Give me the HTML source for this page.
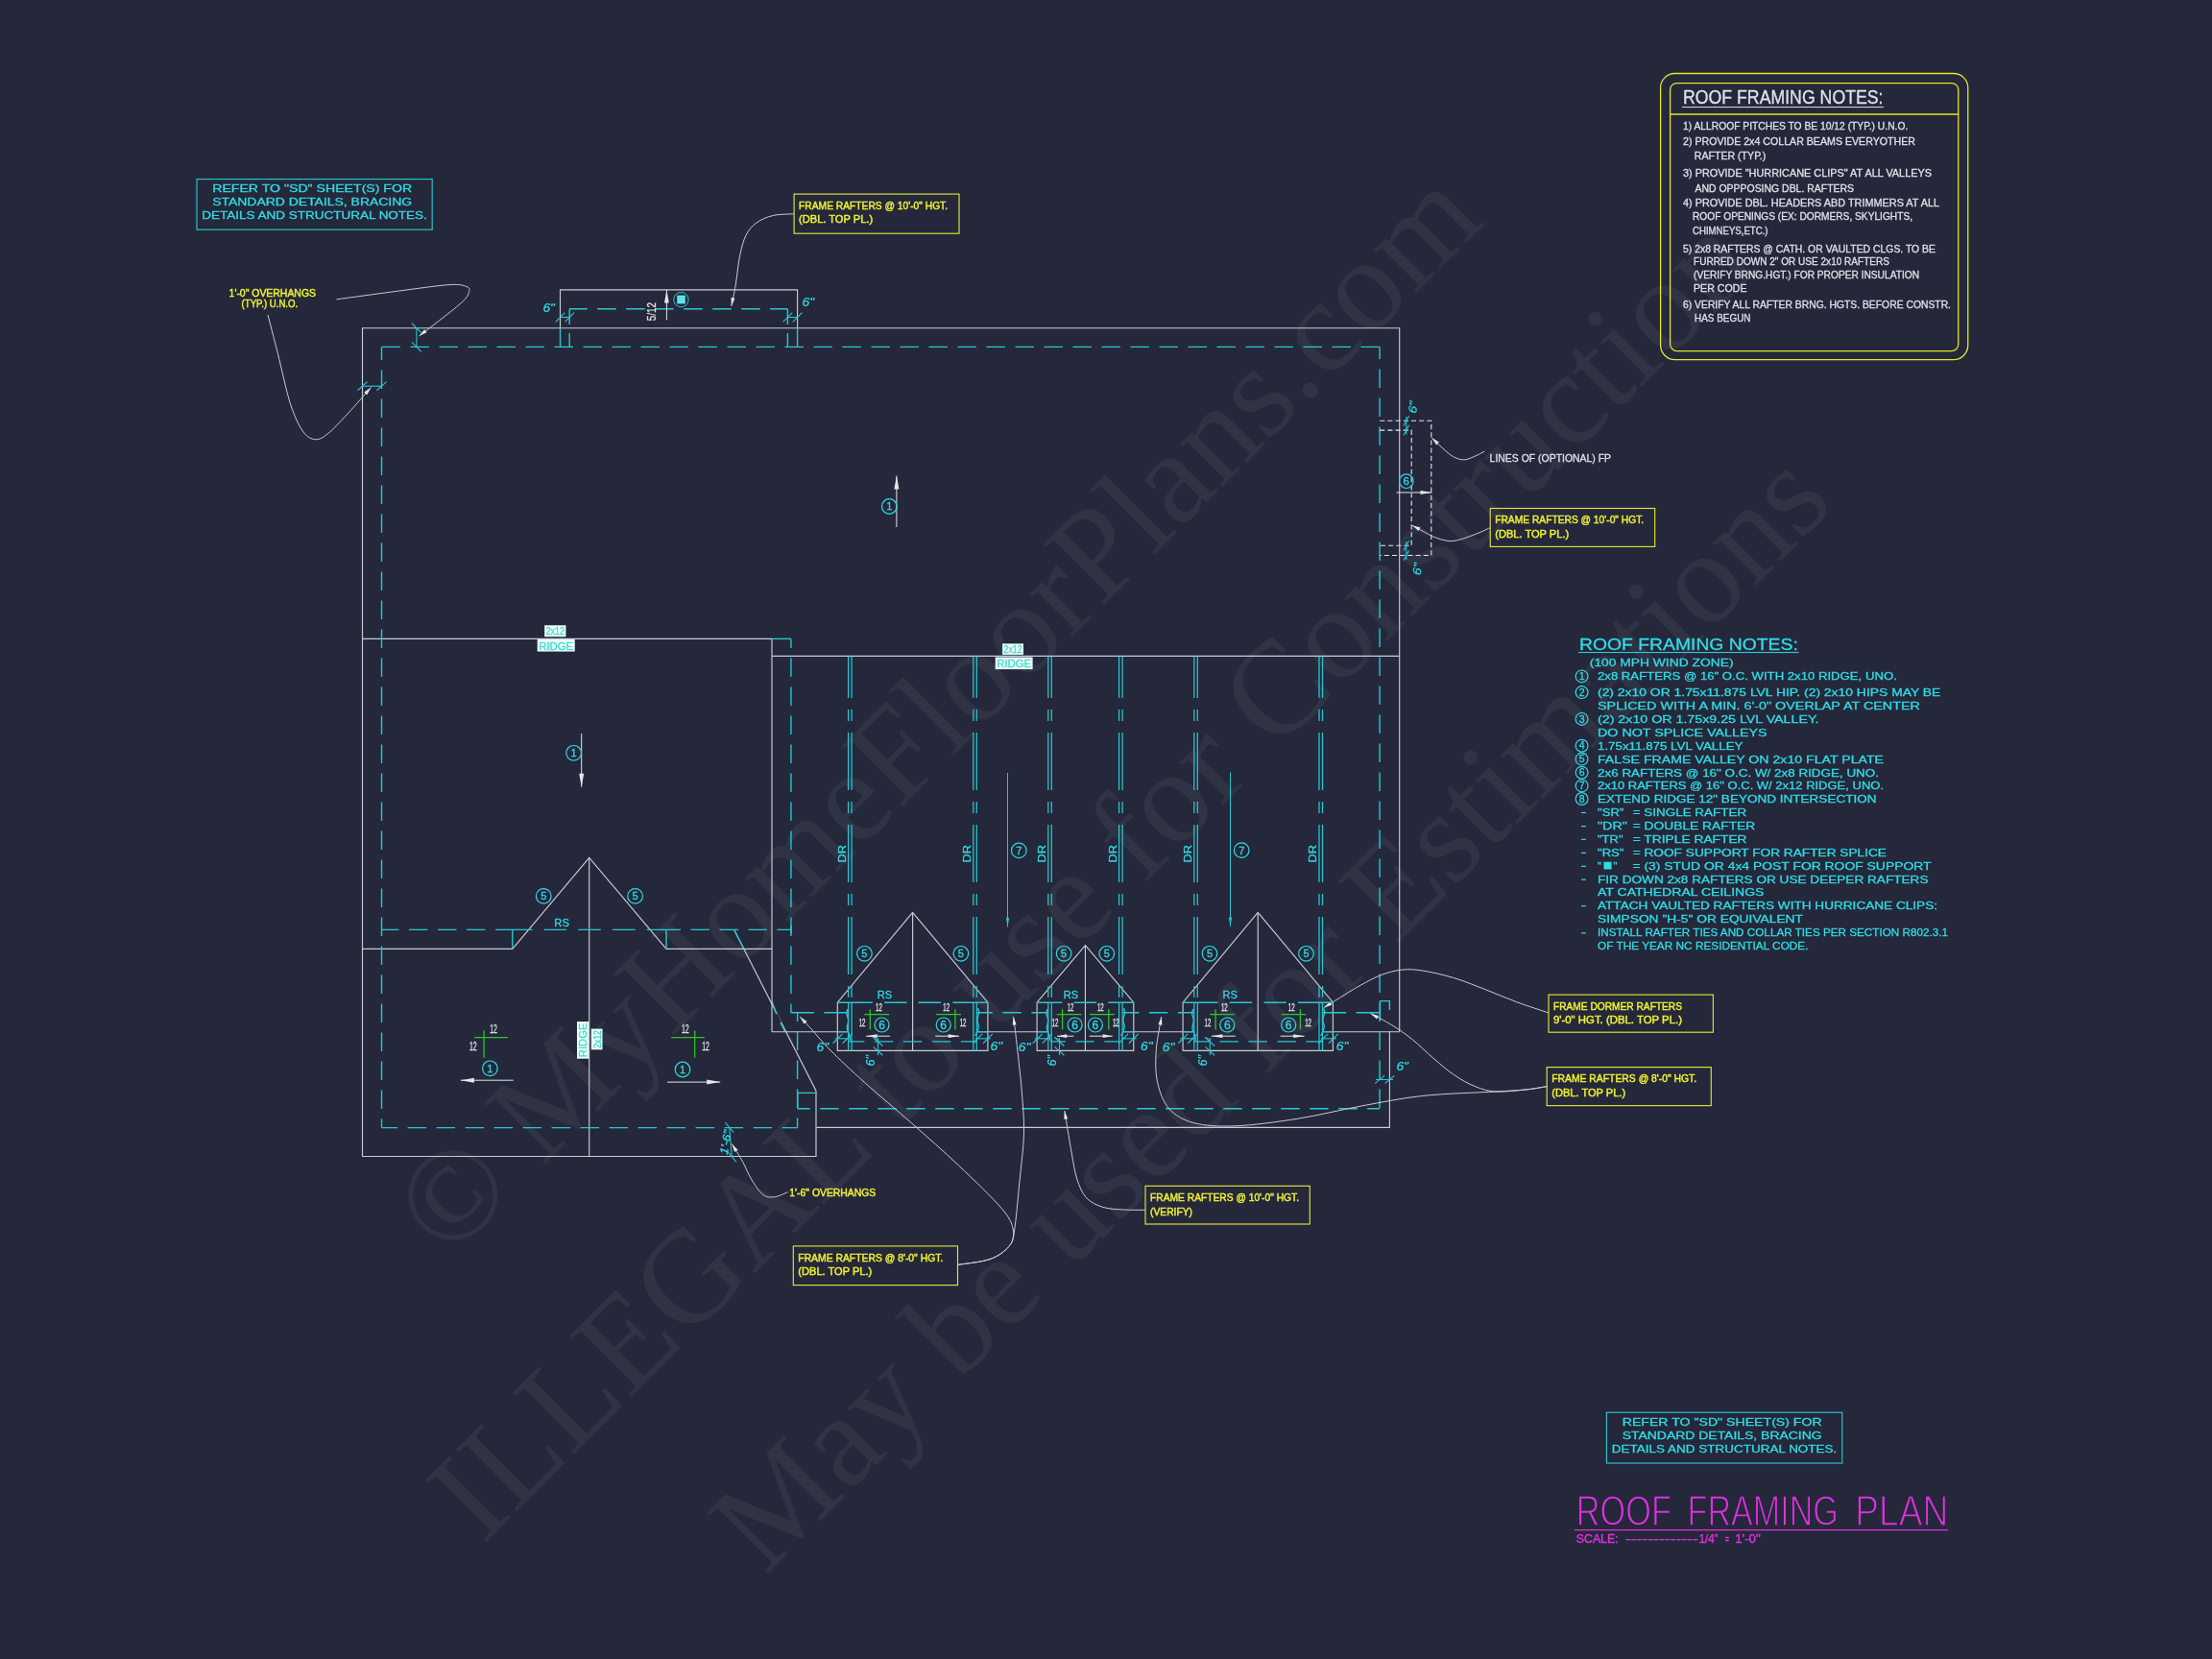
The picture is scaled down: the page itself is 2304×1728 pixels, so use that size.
<!DOCTYPE html>
<html lang="en"><head><meta charset="utf-8"><title>Roof Framing Plan</title>
<style>
html,body{margin:0;padding:0;background:#24283a;}
body{width:2304px;height:1728px;overflow:hidden;}
svg{display:block;font-family:"Liberation Sans",sans-serif;will-change:transform;}
.wm{font-family:"Liberation Serif",serif;fill:#ffffff;fill-opacity:0.055;}
</style></head><body>
<svg width="2304" height="1728" viewBox="0 0 2304 1728">
<!--#24283a-->
<g id="watermark">
<text class="wm" x="466.7" y="1313.5" font-size="137.2" transform="rotate(-45 466.7 1313.5)">© MyHomeFloorPlans.com</text>
<text class="wm" x="502.9" y="1609.6" font-size="138" transform="rotate(-45 502.9 1609.6)">ILLEGAL to use for Construction</text>
<text class="wm" x="796.8" y="1641.9" font-size="137.2" transform="rotate(-45 796.8 1641.9)">May be used for Estimations</text>
</g>
<g id="outline">
<path d="M377.5 1204.7 L377.5 341.7 L1457.7 341.7 L1457.7 1074.7" fill="none" stroke="#c9ccd6" stroke-width="1.15"/>
<path d="M377.5 1204.5 L850 1204.5 L850 1136.2 L764.7 968.5" fill="none" stroke="#c9ccd6" stroke-width="1.15"/>
<line x1="764.7" y1="968.5" x2="774.7" y2="988.3" stroke="#29c6d2" stroke-width="1.4"/>
<line x1="803.9" y1="1043" x2="808.8" y2="1056.2" stroke="#29c6d2" stroke-width="1.4"/>
<line x1="808.9" y1="1056.4" x2="812.9" y2="1065" stroke="#24283a" stroke-width="2.2"/>
<line x1="813" y1="1065.2" x2="817.8" y2="1074.7" stroke="#29c6d2" stroke-width="1.4"/>
<path d="M583.5 341.7 L583.5 301.9 L830.6 301.9 L830.6 341.7" fill="none" stroke="#c9ccd6" stroke-width="1.15"/>
<line x1="377.5" y1="665.4" x2="804" y2="665.4" stroke="#c9ccd6" stroke-width="1.15"/>
<line x1="804" y1="665.4" x2="804" y2="1074.7" stroke="#c9ccd6" stroke-width="1.15"/>
<line x1="804" y1="683.4" x2="1457.7" y2="683.4" stroke="#c9ccd6" stroke-width="1.15"/>
<path d="M377.5 988.3 L533.8 988.3 L613.7 893.3 L694 988.3 L804 988.3" fill="none" stroke="#c9ccd6" stroke-width="1.15"/>
<line x1="613.7" y1="893.3" x2="613.7" y2="1204.7" stroke="#c9ccd6" stroke-width="1.15"/>
<path d="M850.5 1174.3 L1447.4 1174.3 L1447.4 1074.7" fill="none" stroke="#c9ccd6" stroke-width="1.15"/>
<line x1="804" y1="1074.7" x2="883.5" y2="1074.7" stroke="#c9ccd6" stroke-width="1.15"/>
<line x1="1017.3" y1="1074.7" x2="1091.5" y2="1074.7" stroke="#c9ccd6" stroke-width="1.15"/>
<line x1="1169.3" y1="1074.7" x2="1243.5" y2="1074.7" stroke="#c9ccd6" stroke-width="1.15"/>
<line x1="1377.3" y1="1074.7" x2="1457.7" y2="1074.7" stroke="#c9ccd6" stroke-width="1.15"/>
<path d="M950.6 950.4 L872.3 1044.1 L872.3 1094.4 L1028.9 1094.4 L1028.9 1044.1 L950.6 950.4" fill="none" stroke="#c9ccd6" stroke-width="1.15"/>
<line x1="950.6" y1="950.4" x2="950.6" y2="1094.4" stroke="#c9ccd6" stroke-width="1.15"/>
<path d="M1130.45 984.6 L1080.1 1044.1 L1080.1 1094.4 L1180.8 1094.4 L1180.8 1044.1 L1130.45 984.6" fill="none" stroke="#c9ccd6" stroke-width="1.15"/>
<line x1="1130.45" y1="984.6" x2="1130.45" y2="1094.4" stroke="#c9ccd6" stroke-width="1.15"/>
<path d="M1310.25 950.4 L1232.1 1044.1 L1232.1 1094.4 L1388.4 1094.4 L1388.4 1044.1 L1310.25 950.4" fill="none" stroke="#c9ccd6" stroke-width="1.15"/>
<line x1="1310.25" y1="950.4" x2="1310.25" y2="1094.4" stroke="#c9ccd6" stroke-width="1.15"/>
</g>
<g id="plates">
<line x1="397.5" y1="361.4" x2="1437.1" y2="361.4" stroke="#29c6d2" stroke-width="1.4" stroke-dasharray="19.5 10.5"/>
<line x1="397.5" y1="361.4" x2="397.5" y2="1174.6" stroke="#29c6d2" stroke-width="1.4" stroke-dasharray="19.5 10.5" stroke-dashoffset="6"/>
<line x1="1437.1" y1="361.4" x2="1437.1" y2="1154.8" stroke="#29c6d2" stroke-width="1.4" stroke-dasharray="19.5 10.5" stroke-dashoffset="6.9"/>
<line x1="397.5" y1="1174.6" x2="830.6" y2="1174.6" stroke="#29c6d2" stroke-width="1.4" stroke-dasharray="19.5 10.5" stroke-dashoffset="2.9"/>
<line x1="830.6" y1="1054.8" x2="830.6" y2="1174.6" stroke="#29c6d2" stroke-width="1.4" stroke-dasharray="19.5 10.5" stroke-dashoffset="10.4"/>
<path d="M397.5 968.4L415.45 968.4 M425.95 968.4L445.45 968.4 M455.95 968.4L475.45 968.4 M485.95 968.4L505.45 968.4 M515.95 968.4L533.9 968.4" fill="none" stroke="#29c6d2" stroke-width="1.4"/>
<path d="M533.9 968.4L554.45 968.4 M566.65 968.4L590.15 968.4 M602.35 968.4L625.85 968.4 M638.05 968.4L661.55 968.4 M673.75 968.4L694.3 968.4" fill="none" stroke="#29c6d2" stroke-width="1.4"/>
<path d="M694.3 968.4L708.95 968.4 M719.45 968.4L738.95 968.4 M749.45 968.4L768.95 968.4 M779.45 968.4L798.95 968.4 M809.45 968.4L824.1 968.4" fill="none" stroke="#29c6d2" stroke-width="1.4"/>
<line x1="824.1" y1="964" x2="824.1" y2="973" stroke="#29c6d2" stroke-width="1.4"/>
<line x1="804" y1="665.4" x2="824" y2="665.4" stroke="#29c6d2" stroke-width="1.4"/>
<line x1="823.9" y1="665.4" x2="823.9" y2="1054.8" stroke="#29c6d2" stroke-width="1.4" stroke-dasharray="19.5 10.5" stroke-dashoffset="9.8"/>
<line x1="830.6" y1="1154.8" x2="1437.1" y2="1154.8" stroke="#29c6d2" stroke-width="1.4" stroke-dasharray="19.5 10.5" stroke-dashoffset="6.4"/>
<path d="M823.7 1054.8L847.85 1054.8 M858.35 1054.8L882.5 1054.8" fill="none" stroke="#29c6d2" stroke-width="1.4"/>
<path d="M1017.3 1054.8L1033.85 1054.8 M1044.35 1054.8L1063.85 1054.8 M1074.35 1054.8L1090.9 1054.8" fill="none" stroke="#29c6d2" stroke-width="1.4"/>
<path d="M1169.6 1054.8L1186.4 1054.8 M1196.9 1054.8L1216.4 1054.8 M1226.9 1054.8L1243.7 1054.8" fill="none" stroke="#29c6d2" stroke-width="1.4"/>
<path d="M1377.6 1054.8L1402.1 1054.8 M1412.6 1054.8L1437.1 1054.8" fill="none" stroke="#29c6d2" stroke-width="1.4"/>
<line x1="593.2" y1="321.7" x2="820.4" y2="321.7" stroke="#29c6d2" stroke-width="1.4" stroke-dasharray="19.5 10.5" stroke-dashoffset="1"/>
<line x1="593.2" y1="321.7" x2="593.2" y2="338" stroke="#29c6d2" stroke-width="1.4"/>
<line x1="593.2" y1="347" x2="593.2" y2="361.4" stroke="#29c6d2" stroke-width="1.4"/>
<line x1="820.4" y1="321.7" x2="820.4" y2="338" stroke="#29c6d2" stroke-width="1.4"/>
<line x1="820.4" y1="347" x2="820.4" y2="361.4" stroke="#29c6d2" stroke-width="1.4"/>
<line x1="583.5" y1="341.7" x2="583.5" y2="361.4" stroke="#29c6d2" stroke-width="1.4"/>
<line x1="830.6" y1="341.7" x2="830.6" y2="361.4" stroke="#29c6d2" stroke-width="1.4"/>
<line x1="533.8" y1="968.5" x2="533.8" y2="988.3" stroke="#29c6d2" stroke-width="1.4"/>
<line x1="694" y1="968.5" x2="694" y2="988.3" stroke="#29c6d2" stroke-width="1.4"/>
<path d="M830.8 1154.4 L830.8 1138.4 L850.5 1138.4" fill="none" stroke="#29c6d2" stroke-width="1.4"/>
<path d="M1437.5 1062 L1437.5 1042.6 L1447.4 1042.6 L1447.4 1052" fill="none" stroke="#29c6d2" stroke-width="1.4"/>
</g>
<g id="dr">
<line x1="883.6" y1="683.4" x2="883.6" y2="1044" stroke="#29c6d2" stroke-width="1.25" stroke-dasharray="60 12 12 12" stroke-dashoffset="16.4"/>
<line x1="883.6" y1="1044" x2="883.6" y2="1094.4" stroke="#29c6d2" stroke-width="1.25"/>
<line x1="887.1" y1="683.4" x2="887.1" y2="1044" stroke="#29c6d2" stroke-width="1.25" stroke-dasharray="60 12 12 12" stroke-dashoffset="16.4"/>
<line x1="887.1" y1="1044" x2="887.1" y2="1094.4" stroke="#29c6d2" stroke-width="1.25"/>
<line x1="1013.8" y1="683.4" x2="1013.8" y2="1044" stroke="#29c6d2" stroke-width="1.25" stroke-dasharray="60 12 12 12" stroke-dashoffset="16.4"/>
<line x1="1013.8" y1="1044" x2="1013.8" y2="1094.4" stroke="#29c6d2" stroke-width="1.25"/>
<line x1="1017.3" y1="683.4" x2="1017.3" y2="1044" stroke="#29c6d2" stroke-width="1.25" stroke-dasharray="60 12 12 12" stroke-dashoffset="16.4"/>
<line x1="1017.3" y1="1044" x2="1017.3" y2="1094.4" stroke="#29c6d2" stroke-width="1.25"/>
<line x1="1091.8" y1="683.4" x2="1091.8" y2="1044" stroke="#29c6d2" stroke-width="1.25" stroke-dasharray="60 12 12 12" stroke-dashoffset="16.4"/>
<line x1="1091.8" y1="1044" x2="1091.8" y2="1094.4" stroke="#29c6d2" stroke-width="1.25"/>
<line x1="1095.3" y1="683.4" x2="1095.3" y2="1044" stroke="#29c6d2" stroke-width="1.25" stroke-dasharray="60 12 12 12" stroke-dashoffset="16.4"/>
<line x1="1095.3" y1="1044" x2="1095.3" y2="1094.4" stroke="#29c6d2" stroke-width="1.25"/>
<line x1="1165.6" y1="683.4" x2="1165.6" y2="1044" stroke="#29c6d2" stroke-width="1.25" stroke-dasharray="60 12 12 12" stroke-dashoffset="16.4"/>
<line x1="1165.6" y1="1044" x2="1165.6" y2="1094.4" stroke="#29c6d2" stroke-width="1.25"/>
<line x1="1169.1" y1="683.4" x2="1169.1" y2="1044" stroke="#29c6d2" stroke-width="1.25" stroke-dasharray="60 12 12 12" stroke-dashoffset="16.4"/>
<line x1="1169.1" y1="1044" x2="1169.1" y2="1094.4" stroke="#29c6d2" stroke-width="1.25"/>
<line x1="1243.8" y1="683.4" x2="1243.8" y2="1044" stroke="#29c6d2" stroke-width="1.25" stroke-dasharray="60 12 12 12" stroke-dashoffset="16.4"/>
<line x1="1243.8" y1="1044" x2="1243.8" y2="1094.4" stroke="#29c6d2" stroke-width="1.25"/>
<line x1="1247.3" y1="683.4" x2="1247.3" y2="1044" stroke="#29c6d2" stroke-width="1.25" stroke-dasharray="60 12 12 12" stroke-dashoffset="16.4"/>
<line x1="1247.3" y1="1044" x2="1247.3" y2="1094.4" stroke="#29c6d2" stroke-width="1.25"/>
<line x1="1374" y1="683.4" x2="1374" y2="1044" stroke="#29c6d2" stroke-width="1.25" stroke-dasharray="60 12 12 12" stroke-dashoffset="16.4"/>
<line x1="1374" y1="1044" x2="1374" y2="1094.4" stroke="#29c6d2" stroke-width="1.25"/>
<line x1="1377.5" y1="683.4" x2="1377.5" y2="1044" stroke="#29c6d2" stroke-width="1.25" stroke-dasharray="60 12 12 12" stroke-dashoffset="16.4"/>
<line x1="1377.5" y1="1044" x2="1377.5" y2="1094.4" stroke="#29c6d2" stroke-width="1.25"/>
<text x="881" y="898.5" font-size="11.5" fill="#30dbe6" textLength="18.5" lengthAdjust="spacingAndGlyphs" transform="rotate(-90 881 898.5)" stroke="#30dbe6" stroke-width="0.3">DR</text>
<text x="1010.8" y="898.5" font-size="11.5" fill="#30dbe6" textLength="18.5" lengthAdjust="spacingAndGlyphs" transform="rotate(-90 1010.8 898.5)" stroke="#30dbe6" stroke-width="0.3">DR</text>
<text x="1088.9" y="898.5" font-size="11.5" fill="#30dbe6" textLength="18.5" lengthAdjust="spacingAndGlyphs" transform="rotate(-90 1088.9 898.5)" stroke="#30dbe6" stroke-width="0.3">DR</text>
<text x="1162.7" y="898.5" font-size="11.5" fill="#30dbe6" textLength="18.5" lengthAdjust="spacingAndGlyphs" transform="rotate(-90 1162.7 898.5)" stroke="#30dbe6" stroke-width="0.3">DR</text>
<text x="1240.8" y="898.5" font-size="11.5" fill="#30dbe6" textLength="18.5" lengthAdjust="spacingAndGlyphs" transform="rotate(-90 1240.8 898.5)" stroke="#30dbe6" stroke-width="0.3">DR</text>
<text x="1371" y="898.5" font-size="11.5" fill="#30dbe6" textLength="18.5" lengthAdjust="spacingAndGlyphs" transform="rotate(-90 1371 898.5)" stroke="#30dbe6" stroke-width="0.3">DR</text>
</g>
<g id="notesbox">
<rect x="1729.6" y="76.5" width="320.2" height="298.1" fill="none" stroke="#e4e42c" stroke-width="1.3" rx="15"/>
<rect x="1739.6" y="86.6" width="300.2" height="279" fill="none" stroke="#e4e42c" stroke-width="1.3" rx="7"/>
<line x1="1739.6" y1="119" x2="2039.8" y2="119" stroke="#e4e42c" stroke-width="1.3"/>
<text x="1753" y="108.3" font-size="19.5" fill="#dfe1e8" textLength="208.5" lengthAdjust="spacingAndGlyphs" stroke="#dfe1e8" stroke-width="0.3">ROOF FRAMING NOTES:</text>
<line x1="1752" y1="111.6" x2="1962" y2="111.6" stroke="#dfe1e8" stroke-width="1"/>
<text x="1753" y="134.7" font-size="10.8" fill="#dfe1e8" textLength="234.3" lengthAdjust="spacingAndGlyphs" stroke="#dfe1e8" stroke-width="0.3">1) ALLROOF PITCHES TO BE  10/12 (TYP.) U.N.O.</text>
<text x="1753" y="150.8" font-size="10.8" fill="#dfe1e8" textLength="242" lengthAdjust="spacingAndGlyphs" stroke="#dfe1e8" stroke-width="0.3">2) PROVIDE 2x4 COLLAR BEAMS EVERYOTHER</text>
<text x="1764.8" y="166.4" font-size="10.8" fill="#dfe1e8" textLength="74.5" lengthAdjust="spacingAndGlyphs" stroke="#dfe1e8" stroke-width="0.3">RAFTER (TYP.)</text>
<text x="1753" y="184.1" font-size="10.8" fill="#dfe1e8" textLength="259" lengthAdjust="spacingAndGlyphs" stroke="#dfe1e8" stroke-width="0.3">3) PROVIDE "HURRICANE CLIPS" AT ALL VALLEYS</text>
<text x="1765.5" y="199.8" font-size="10.8" fill="#dfe1e8" textLength="165.5" lengthAdjust="spacingAndGlyphs" stroke="#dfe1e8" stroke-width="0.3">AND OPPPOSING DBL. RAFTERS</text>
<text x="1753" y="215.4" font-size="10.8" fill="#dfe1e8" textLength="267" lengthAdjust="spacingAndGlyphs" stroke="#dfe1e8" stroke-width="0.3">4) PROVIDE DBL. HEADERS ABD TRIMMERS AT ALL</text>
<text x="1763" y="229.3" font-size="10.8" fill="#dfe1e8" textLength="229" lengthAdjust="spacingAndGlyphs" stroke="#dfe1e8" stroke-width="0.3">ROOF OPENINGS (EX: DORMERS, SKYLIGHTS,</text>
<text x="1763" y="244" font-size="10.8" fill="#dfe1e8" textLength="78.5" lengthAdjust="spacingAndGlyphs" stroke="#dfe1e8" stroke-width="0.3">CHIMNEYS,ETC.)</text>
<text x="1753" y="263.1" font-size="10.8" fill="#dfe1e8" textLength="263" lengthAdjust="spacingAndGlyphs" stroke="#dfe1e8" stroke-width="0.3">5) 2x8 RAFTERS @ CATH. OR VAULTED CLGS. TO BE</text>
<text x="1764" y="275.8" font-size="10.8" fill="#dfe1e8" textLength="204" lengthAdjust="spacingAndGlyphs" stroke="#dfe1e8" stroke-width="0.3">FURRED DOWN 2" OR USE 2x10 RAFTERS</text>
<text x="1764" y="289.7" font-size="10.8" fill="#dfe1e8" textLength="235" lengthAdjust="spacingAndGlyphs" stroke="#dfe1e8" stroke-width="0.3">(VERIFY BRNG.HGT.) FOR PROPER INSULATION</text>
<text x="1764" y="303.6" font-size="10.8" fill="#dfe1e8" textLength="55.5" lengthAdjust="spacingAndGlyphs" stroke="#dfe1e8" stroke-width="0.3">PER CODE</text>
<text x="1753" y="321.3" font-size="10.8" fill="#dfe1e8" textLength="279" lengthAdjust="spacingAndGlyphs" stroke="#dfe1e8" stroke-width="0.3">6) VERIFY ALL RAFTER BRNG. HGTS. BEFORE CONSTR.</text>
<text x="1765" y="334.7" font-size="10.8" fill="#dfe1e8" textLength="58.5" lengthAdjust="spacingAndGlyphs" stroke="#dfe1e8" stroke-width="0.3">HAS BEGUN</text>
</g>
<g id="notes2">
<text x="1645" y="676.8" font-size="16" fill="#30dbe6" textLength="227.8" lengthAdjust="spacingAndGlyphs" stroke="#30dbe6" stroke-width="0.3">ROOF FRAMING NOTES:</text>
<line x1="1644" y1="679.6" x2="1873.5" y2="679.6" stroke="#30dbe6" stroke-width="1"/>
<text x="1655.8" y="694.2" font-size="11" fill="#30dbe6" textLength="149.7" lengthAdjust="spacingAndGlyphs" stroke="#30dbe6" stroke-width="0.3">(100 MPH WIND ZONE)</text>
<text x="1664" y="708.3" font-size="11" fill="#30dbe6" textLength="311.8" lengthAdjust="spacingAndGlyphs" stroke="#30dbe6" stroke-width="0.3">2x8 RAFTERS @ 16" O.C. WITH 2x10 RIDGE, UNO.</text>
<text x="1664" y="725" font-size="11" fill="#30dbe6" textLength="357.4" lengthAdjust="spacingAndGlyphs" stroke="#30dbe6" stroke-width="0.3">(2) 2x10 OR 1.75x11.875 LVL HIP. (2) 2x10 HIPS MAY BE</text>
<text x="1664" y="738.7" font-size="11" fill="#30dbe6" textLength="336" lengthAdjust="spacingAndGlyphs" stroke="#30dbe6" stroke-width="0.3">SPLICED WITH A MIN. 6'-0" OVERLAP AT CENTER</text>
<text x="1664" y="752.8" font-size="11" fill="#30dbe6" textLength="230.5" lengthAdjust="spacingAndGlyphs" stroke="#30dbe6" stroke-width="0.3">(2) 2x10 OR 1.75x9.25 LVL VALLEY.</text>
<text x="1664" y="766.9" font-size="11" fill="#30dbe6" textLength="176.5" lengthAdjust="spacingAndGlyphs" stroke="#30dbe6" stroke-width="0.3">DO NOT SPLICE VALLEYS</text>
<text x="1664" y="780.6" font-size="11" fill="#30dbe6" textLength="151.5" lengthAdjust="spacingAndGlyphs" stroke="#30dbe6" stroke-width="0.3">1.75x11.875 LVL VALLEY</text>
<text x="1664" y="794.5" font-size="11" fill="#30dbe6" textLength="298" lengthAdjust="spacingAndGlyphs" stroke="#30dbe6" stroke-width="0.3">FALSE FRAME VALLEY ON 2x10 FLAT PLATE</text>
<text x="1664" y="808.6" font-size="11" fill="#30dbe6" textLength="293" lengthAdjust="spacingAndGlyphs" stroke="#30dbe6" stroke-width="0.3">2x6 RAFTERS @ 16" O.C. W/ 2x8 RIDGE, UNO.</text>
<text x="1664" y="822.3" font-size="11" fill="#30dbe6" textLength="298" lengthAdjust="spacingAndGlyphs" stroke="#30dbe6" stroke-width="0.3">2x10 RAFTERS @ 16" O.C. W/ 2x12 RIDGE, UNO.</text>
<text x="1664" y="835.9" font-size="11" fill="#30dbe6" textLength="290.5" lengthAdjust="spacingAndGlyphs" stroke="#30dbe6" stroke-width="0.3">EXTEND RIDGE 12" BEYOND INTERSECTION</text>
<text x="1664" y="849.8" font-size="11" fill="#30dbe6" textLength="27.5" lengthAdjust="spacingAndGlyphs" stroke="#30dbe6" stroke-width="0.3">"SR"</text>
<text x="1700.7" y="849.8" font-size="11" fill="#30dbe6" textLength="118.5" lengthAdjust="spacingAndGlyphs" stroke="#30dbe6" stroke-width="0.3">= SINGLE RAFTER</text>
<text x="1664" y="863.9" font-size="11" fill="#30dbe6" textLength="30.8" lengthAdjust="spacingAndGlyphs" stroke="#30dbe6" stroke-width="0.3">"DR"</text>
<text x="1700.7" y="863.9" font-size="11" fill="#30dbe6" textLength="127.6" lengthAdjust="spacingAndGlyphs" stroke="#30dbe6" stroke-width="0.3">= DOUBLE RAFTER</text>
<text x="1664" y="877.6" font-size="11" fill="#30dbe6" textLength="26.5" lengthAdjust="spacingAndGlyphs" stroke="#30dbe6" stroke-width="0.3">"TR"</text>
<text x="1700.7" y="877.6" font-size="11" fill="#30dbe6" textLength="118.9" lengthAdjust="spacingAndGlyphs" stroke="#30dbe6" stroke-width="0.3">= TRIPLE RAFTER</text>
<text x="1664" y="891.7" font-size="11" fill="#30dbe6" textLength="27.5" lengthAdjust="spacingAndGlyphs" stroke="#30dbe6" stroke-width="0.3">"RS"</text>
<text x="1700.7" y="891.7" font-size="11" fill="#30dbe6" textLength="264.3" lengthAdjust="spacingAndGlyphs" stroke="#30dbe6" stroke-width="0.3">= ROOF SUPPORT FOR RAFTER SPLICE</text>
<text x="1700.5" y="905.6" font-size="11" fill="#30dbe6" textLength="311" lengthAdjust="spacingAndGlyphs" stroke="#30dbe6" stroke-width="0.3">= (3) STUD OR 4x4 POST FOR ROOF SUPPORT</text>
<text x="1664" y="919.5" font-size="11" fill="#30dbe6" textLength="344.5" lengthAdjust="spacingAndGlyphs" stroke="#30dbe6" stroke-width="0.3">FIR DOWN 2x8 RAFTERS OR USE DEEPER RAFTERS</text>
<text x="1664" y="933.3" font-size="11" fill="#30dbe6" textLength="173.5" lengthAdjust="spacingAndGlyphs" stroke="#30dbe6" stroke-width="0.3">AT CATHEDRAL CEILINGS</text>
<text x="1664" y="947" font-size="11" fill="#30dbe6" textLength="354" lengthAdjust="spacingAndGlyphs" stroke="#30dbe6" stroke-width="0.3">ATTACH VAULTED RAFTERS WITH HURRICANE CLIPS:</text>
<text x="1664" y="961.1" font-size="11" fill="#30dbe6" textLength="214" lengthAdjust="spacingAndGlyphs" stroke="#30dbe6" stroke-width="0.3">SIMPSON "H-5" OR EQUIVALENT</text>
<text x="1664" y="975.2" font-size="11" fill="#30dbe6" textLength="365" lengthAdjust="spacingAndGlyphs" stroke="#30dbe6" stroke-width="0.3">INSTALL RAFTER TIES AND COLLAR TIES PER SECTION R802.3.1</text>
<text x="1664" y="989.3" font-size="11" fill="#30dbe6" textLength="219.5" lengthAdjust="spacingAndGlyphs" stroke="#30dbe6" stroke-width="0.3">OF THE YEAR NC RESIDENTIAL CODE.</text>
<text x="1664" y="905.6" font-size="11" fill="#30dbe6" stroke="#30dbe6" stroke-width="0.3">"</text>
<text x="1680.5" y="905.6" font-size="11" fill="#30dbe6" stroke="#30dbe6" stroke-width="0.3">"</text>
<rect x="1670.5" y="897.8" width="8" height="7.6" fill="#30dbe6" stroke="#30dbe6" stroke-width="0.1"/>
<circle cx="1647.6" cy="704.4" r="6.4" fill="none" stroke="#30dbe6" stroke-width="1.2"/>
<text x="1647.6" y="708.18" font-size="10.5" fill="#30dbe6" text-anchor="middle" stroke="#30dbe6" stroke-width="0.3">1</text>
<circle cx="1647.6" cy="721.1" r="6.4" fill="none" stroke="#30dbe6" stroke-width="1.2"/>
<text x="1647.6" y="724.88" font-size="10.5" fill="#30dbe6" text-anchor="middle" stroke="#30dbe6" stroke-width="0.3">2</text>
<circle cx="1647.6" cy="748.9" r="6.4" fill="none" stroke="#30dbe6" stroke-width="1.2"/>
<text x="1647.6" y="752.68" font-size="10.5" fill="#30dbe6" text-anchor="middle" stroke="#30dbe6" stroke-width="0.3">3</text>
<circle cx="1647.6" cy="776.7" r="6.4" fill="none" stroke="#30dbe6" stroke-width="1.2"/>
<text x="1647.6" y="780.48" font-size="10.5" fill="#30dbe6" text-anchor="middle" stroke="#30dbe6" stroke-width="0.3">4</text>
<circle cx="1647.6" cy="790.6" r="6.4" fill="none" stroke="#30dbe6" stroke-width="1.2"/>
<text x="1647.6" y="794.38" font-size="10.5" fill="#30dbe6" text-anchor="middle" stroke="#30dbe6" stroke-width="0.3">5</text>
<circle cx="1647.6" cy="804.7" r="6.4" fill="none" stroke="#30dbe6" stroke-width="1.2"/>
<text x="1647.6" y="808.48" font-size="10.5" fill="#30dbe6" text-anchor="middle" stroke="#30dbe6" stroke-width="0.3">6</text>
<circle cx="1647.6" cy="818.4" r="6.4" fill="none" stroke="#30dbe6" stroke-width="1.2"/>
<text x="1647.6" y="822.18" font-size="10.5" fill="#30dbe6" text-anchor="middle" stroke="#30dbe6" stroke-width="0.3">7</text>
<circle cx="1647.6" cy="832" r="6.4" fill="none" stroke="#30dbe6" stroke-width="1.2"/>
<text x="1647.6" y="835.78" font-size="10.5" fill="#30dbe6" text-anchor="middle" stroke="#30dbe6" stroke-width="0.3">8</text>
<line x1="1647" y1="846.5" x2="1652" y2="846.5" stroke="#30dbe6" stroke-width="1.2"/>
<line x1="1647" y1="860.6" x2="1652" y2="860.6" stroke="#30dbe6" stroke-width="1.2"/>
<line x1="1647" y1="874.3" x2="1652" y2="874.3" stroke="#30dbe6" stroke-width="1.2"/>
<line x1="1647" y1="888.4" x2="1652" y2="888.4" stroke="#30dbe6" stroke-width="1.2"/>
<line x1="1647" y1="902.3" x2="1652" y2="902.3" stroke="#30dbe6" stroke-width="1.2"/>
<line x1="1647" y1="916.2" x2="1652" y2="916.2" stroke="#30dbe6" stroke-width="1.2"/>
<line x1="1647" y1="943.7" x2="1652" y2="943.7" stroke="#30dbe6" stroke-width="1.2"/>
<line x1="1647" y1="971.9" x2="1652" y2="971.9" stroke="#30dbe6" stroke-width="1.2"/>
</g>
<g id="refer">
<rect x="205" y="186.6" width="245.2" height="52.6" fill="none" stroke="#29c6d2" stroke-width="1.15"/>
<text x="325.2" y="200.3" font-size="11.2" fill="#30dbe6" textLength="208" lengthAdjust="spacingAndGlyphs" text-anchor="middle" stroke="#30dbe6" stroke-width="0.3">REFER TO "SD"  SHEET(S) FOR</text>
<text x="325.2" y="214.2" font-size="11.2" fill="#30dbe6" textLength="208" lengthAdjust="spacingAndGlyphs" text-anchor="middle" stroke="#30dbe6" stroke-width="0.3">STANDARD DETAILS, BRACING</text>
<text x="327.6" y="228.1" font-size="11.2" fill="#30dbe6" textLength="234.5" lengthAdjust="spacingAndGlyphs" text-anchor="middle" stroke="#30dbe6" stroke-width="0.3">DETAILS AND STRUCTURAL NOTES.</text>
<rect x="1673.4" y="1471.2" width="245.4" height="52.8" fill="none" stroke="#29c6d2" stroke-width="1.15"/>
<text x="1793.7" y="1484.7" font-size="11.2" fill="#30dbe6" textLength="208" lengthAdjust="spacingAndGlyphs" text-anchor="middle" stroke="#30dbe6" stroke-width="0.3">REFER TO "SD"  SHEET(S) FOR</text>
<text x="1793.7" y="1498.6" font-size="11.2" fill="#30dbe6" textLength="208" lengthAdjust="spacingAndGlyphs" text-anchor="middle" stroke="#30dbe6" stroke-width="0.3">STANDARD DETAILS, BRACING</text>
<text x="1796.1" y="1512.5" font-size="11.2" fill="#30dbe6" textLength="234.5" lengthAdjust="spacingAndGlyphs" text-anchor="middle" stroke="#30dbe6" stroke-width="0.3">DETAILS AND STRUCTURAL NOTES.</text>
</g>
<g id="title">
<text x="1641.8" y="1588.7" font-size="44.6" fill="#e02fe0" textLength="99.1" lengthAdjust="spacingAndGlyphs" stroke="#24283a" stroke-width="1.3">ROOF</text>
<text x="1757.6" y="1588.7" font-size="44.6" fill="#e02fe0" textLength="157.3" lengthAdjust="spacingAndGlyphs" stroke="#24283a" stroke-width="1.3">FRAMING</text>
<text x="1932.2" y="1588.7" font-size="44.6" fill="#e02fe0" textLength="97.1" lengthAdjust="spacingAndGlyphs" stroke="#24283a" stroke-width="1.3">PLAN</text>
<line x1="1639.8" y1="1593.6" x2="2029.2" y2="1593.6" stroke="#e02fe0" stroke-width="1.4"/>
<text x="1641.8" y="1607.4" font-size="12.5" fill="#e02fe0" textLength="43.8" lengthAdjust="spacingAndGlyphs" stroke="#e02fe0" stroke-width="0.4">SCALE:</text>
<text x="1692.9" y="1607.4" font-size="12.5" fill="#e02fe0" textLength="75.9" lengthAdjust="spacingAndGlyphs" stroke="#e02fe0" stroke-width="0.4">-------------</text>
<text x="1769.7" y="1607.4" font-size="12.5" fill="#e02fe0" textLength="19.9" lengthAdjust="spacingAndGlyphs" stroke="#e02fe0" stroke-width="0.4">1/4"</text>
<text x="1796.8" y="1607.4" font-size="12.5" fill="#e02fe0" textLength="4.2" lengthAdjust="spacingAndGlyphs" stroke="#e02fe0" stroke-width="0.4">=</text>
<text x="1807.2" y="1607.4" font-size="12.5" fill="#e02fe0" textLength="26.6" lengthAdjust="spacingAndGlyphs" stroke="#e02fe0" stroke-width="0.4">1'-0"</text>
</g>
<g id="yboxes">
<rect x="827.1" y="202.1" width="171.9" height="41.1" fill="none" stroke="#e0e338" stroke-width="1.15"/>
<text x="832.1" y="217.7" font-size="11" fill="#f0f034" textLength="155" lengthAdjust="spacingAndGlyphs" stroke="#f0f034" stroke-width="0.45">FRAME RAFTERS @ 10'-0" HGT.</text>
<text x="832.1" y="232.4" font-size="11" fill="#f0f034" textLength="77" lengthAdjust="spacingAndGlyphs" stroke="#f0f034" stroke-width="0.45">(DBL. TOP PL.)</text>
<rect x="1552.2" y="529.5" width="171.5" height="39.9" fill="none" stroke="#e0e338" stroke-width="1.15"/>
<text x="1557.2" y="545.1" font-size="11" fill="#f0f034" textLength="155" lengthAdjust="spacingAndGlyphs" stroke="#f0f034" stroke-width="0.45">FRAME RAFTERS @ 10'-0" HGT.</text>
<text x="1557.2" y="559.8" font-size="11" fill="#f0f034" textLength="77" lengthAdjust="spacingAndGlyphs" stroke="#f0f034" stroke-width="0.45">(DBL. TOP PL.)</text>
<rect x="1613" y="1036.1" width="171.4" height="39.1" fill="none" stroke="#e0e338" stroke-width="1.15"/>
<text x="1618" y="1051.7" font-size="11" fill="#f0f034" textLength="134" lengthAdjust="spacingAndGlyphs" stroke="#f0f034" stroke-width="0.45">FRAME DORMER RAFTERS</text>
<text x="1618" y="1066.4" font-size="11" fill="#f0f034" textLength="134" lengthAdjust="spacingAndGlyphs" stroke="#f0f034" stroke-width="0.45">9'-0" HGT. (DBL. TOP PL.)</text>
<rect x="1611.2" y="1111.6" width="171.1" height="40" fill="none" stroke="#e0e338" stroke-width="1.15"/>
<text x="1616.2" y="1127.2" font-size="11" fill="#f0f034" textLength="151" lengthAdjust="spacingAndGlyphs" stroke="#f0f034" stroke-width="0.45">FRAME RAFTERS @ 8'-0" HGT.</text>
<text x="1616.2" y="1141.9" font-size="11" fill="#f0f034" textLength="77" lengthAdjust="spacingAndGlyphs" stroke="#f0f034" stroke-width="0.45">(DBL. TOP PL.)</text>
<rect x="1193" y="1235.3" width="171.3" height="39.7" fill="none" stroke="#e0e338" stroke-width="1.15"/>
<text x="1198" y="1250.9" font-size="11" fill="#f0f034" textLength="155" lengthAdjust="spacingAndGlyphs" stroke="#f0f034" stroke-width="0.45">FRAME RAFTERS @ 10'-0" HGT.</text>
<text x="1198" y="1265.6" font-size="11" fill="#f0f034" textLength="44" lengthAdjust="spacingAndGlyphs" stroke="#f0f034" stroke-width="0.45">(VERIFY)</text>
<rect x="826.3" y="1297.9" width="171.2" height="40.7" fill="none" stroke="#e0e338" stroke-width="1.15"/>
<text x="831.3" y="1313.5" font-size="11" fill="#f0f034" textLength="151" lengthAdjust="spacingAndGlyphs" stroke="#f0f034" stroke-width="0.45">FRAME RAFTERS @ 8'-0" HGT.</text>
<text x="831.3" y="1328.2" font-size="11" fill="#f0f034" textLength="77" lengthAdjust="spacingAndGlyphs" stroke="#f0f034" stroke-width="0.45">(DBL. TOP PL.)</text>
<text x="238.6" y="309" font-size="11" fill="#f0f034" textLength="90.4" lengthAdjust="spacingAndGlyphs" stroke="#f0f034" stroke-width="0.45">1'-0" OVERHANGS</text>
<text x="251.6" y="320.2" font-size="11" fill="#f0f034" textLength="58.6" lengthAdjust="spacingAndGlyphs" stroke="#f0f034" stroke-width="0.45">(TYP.) U.N.O.</text>
<text x="822.3" y="1245.5" font-size="11" fill="#f0f034" textLength="90" lengthAdjust="spacingAndGlyphs" stroke="#f0f034" stroke-width="0.45">1'-6" OVERHANGS</text>
<text x="1551.6" y="480.6" font-size="11.5" fill="#dfe1e8" textLength="126.5" lengthAdjust="spacingAndGlyphs" stroke="#dfe1e8" stroke-width="0.3">LINES OF (OPTIONAL) FP</text>
</g>
<g id="leaders">
<path d="M827.1 222.8 C823.45 223.08 811.73 222.95 805.2 224.5 C798.67 226.05 792.6 228.67 787.9 232.1 C783.2 235.53 779.9 239.32 777 245.1 C774.1 250.88 772.3 258.12 770.5 266.8 C768.7 275.48 767.65 288.52 766.2 297.2 C764.75 305.88 762.53 315.28 761.8 318.9" fill="none" stroke="#c9ccd6" stroke-width="1"/>
<path d="M761.8 318.9 L761.55 310.07 L765.47 310.87 Z" fill="#e6e8ee"/>
<path d="M350.6 311.8 C361.23 310.37 395.08 305.72 414.4 303.2 C433.72 300.68 454.78 297.57 466.5 296.7 C478.22 295.83 481.02 296.87 484.7 298 C488.38 299.13 489.47 300.45 488.6 303.5 C487.73 306.55 488.18 308.53 479.5 316.3 C470.82 324.07 443.67 344.47 436.5 350.1" fill="none" stroke="#c9ccd6" stroke-width="1"/>
<path d="M436.5 350.1 L442.03 343.21 L444.5 346.36 Z" fill="#e6e8ee"/>
<path d="M279 328 C280.73 334.72 285.5 352.9 289.4 368.3 C293.3 383.7 298.07 406.93 302.4 420.4 C306.73 433.87 311.07 442.88 315.4 449.1 C319.73 455.32 324.05 457.27 328.4 457.7 C332.75 458.13 335.85 456.18 341.5 451.7 C347.15 447.22 354.8 438.83 362.3 430.8 C369.8 422.77 382.47 408.05 386.5 403.5" fill="none" stroke="#c9ccd6" stroke-width="1"/>
<path d="M386.5 403.5 L382.29 411.26 L379.3 408.61 Z" fill="#e6e8ee"/>
<path d="M1546.2 470.2 C1544.38 471.1 1538.92 474.15 1535.3 475.6 C1531.68 477.05 1528.12 478.9 1524.5 478.9 C1520.88 478.9 1517.22 477.58 1513.6 475.6 C1509.98 473.62 1506.52 470.25 1502.8 467 C1499.08 463.75 1493.22 457.92 1491.3 456.1" fill="none" stroke="#c9ccd6" stroke-width="1"/>
<path d="M1491.3 456.1 L1498.92 460.56 L1496.17 463.47 Z" fill="#e6e8ee"/>
<path d="M1551.6 549.9 C1548.88 551.08 1541.63 554.73 1535.3 557 C1528.97 559.27 1520.1 562.95 1513.6 563.5 C1507.1 564.05 1501.73 562.1 1496.3 560.3 C1490.87 558.5 1485.23 554.88 1481 552.7 C1476.77 550.52 1472.58 548.12 1470.9 547.2" fill="none" stroke="#c9ccd6" stroke-width="1"/>
<path d="M1470.9 547.2 L1479.41 549.56 L1477.5 553.07 Z" fill="#e6e8ee"/>
<path d="M820.7 1241.6 C818.35 1242.47 810.9 1246.33 806.6 1246.8 C802.3 1247.27 798.82 1247.35 794.9 1244.4 C790.98 1241.45 786.63 1234.78 783.1 1229.1 C779.57 1223.42 777.15 1216.57 773.7 1210.3 C770.25 1204.03 764.28 1194.63 762.4 1191.5" fill="none" stroke="#c9ccd6" stroke-width="1"/>
<path d="M762.4 1191.5 L768.54 1197.84 L765.12 1199.9 Z" fill="#e6e8ee"/>
<path d="M997.5 1317.4 C1003.08 1316.43 1022.15 1314.73 1031 1311.6 C1039.85 1308.47 1046.52 1303.48 1050.6 1298.6 C1054.68 1293.72 1056.6 1288.82 1055.5 1282.3 C1054.4 1275.78 1053.5 1270.9 1044 1259.5 C1034.5 1248.1 1014.22 1228.82 998.5 1213.9 C982.78 1198.98 965.98 1184.37 949.7 1170 C933.42 1155.63 914.92 1140.37 900.8 1127.7 C886.68 1115.03 874.28 1103.3 865 1094 C855.72 1084.7 850.4 1077.75 845.1 1071.9 C839.8 1066.05 835.18 1061.07 833.2 1058.9" fill="none" stroke="#c9ccd6" stroke-width="1"/>
<path d="M833.2 1058.9 L840.48 1063.89 L837.53 1066.59 Z" fill="#e6e8ee"/>
<path d="M997.5 1317.4 C1003.08 1316.43 1022.15 1314.73 1031 1311.6 C1039.85 1308.47 1046.35 1303.53 1050.6 1298.6 C1054.85 1293.67 1054.6 1293.4 1056.5 1282 C1058.4 1270.6 1060.33 1247.13 1062 1230.2 C1063.67 1213.27 1066.12 1195.93 1066.5 1180.4 C1066.88 1164.87 1065.22 1149.65 1064.3 1137 C1063.38 1124.35 1062.08 1114.62 1061 1104.5 C1059.92 1094.38 1058.7 1083.9 1057.8 1076.3 C1056.9 1068.7 1055.97 1061.8 1055.6 1058.9" fill="none" stroke="#c9ccd6" stroke-width="1"/>
<path d="M1055.6 1058.9 L1058.66 1067.18 L1054.69 1067.68 Z" fill="#e6e8ee"/>
<path d="M1611.2 1131.6 C1607.77 1132.13 1599.45 1133.9 1590.6 1134.8 C1581.75 1135.7 1567.13 1137.53 1558.1 1137 C1549.07 1136.47 1543.63 1134.48 1536.4 1131.6 C1529.17 1128.72 1521.93 1124.58 1514.7 1119.7 C1507.47 1114.82 1500.23 1108.45 1493 1102.3 C1485.77 1096.15 1478.53 1088.58 1471.3 1082.8 C1464.07 1077.02 1456.92 1072.13 1449.6 1067.6 C1442.28 1063.07 1431.1 1057.6 1427.4 1055.6" fill="none" stroke="#c9ccd6" stroke-width="1"/>
<path d="M1427.4 1055.6 L1435.92 1057.93 L1434.01 1061.45 Z" fill="#e6e8ee"/>
<path d="M1611.2 1131.6 C1607.77 1132.13 1599.45 1133.9 1590.6 1134.8 C1581.75 1135.7 1576.18 1135.9 1558.1 1137 C1540.02 1138.1 1505.62 1138.87 1482.1 1141.4 C1458.58 1143.93 1438.7 1148.23 1417 1152.2 C1395.3 1156.17 1373.6 1161.77 1351.9 1165.2 C1330.2 1168.63 1304.88 1172.07 1286.8 1172.8 C1268.72 1173.53 1254.97 1172.67 1243.4 1169.6 C1231.83 1166.53 1223.73 1161.63 1217.4 1154.4 C1211.07 1147.17 1207.58 1136.33 1205.4 1126.2 C1203.22 1116.07 1203.57 1104.82 1204.3 1093.6 C1205.03 1082.38 1208.88 1064.68 1209.8 1058.9" fill="none" stroke="#c9ccd6" stroke-width="1"/>
<path d="M1209.8 1058.9 L1210.43 1067.71 L1206.48 1067.08 Z" fill="#e6e8ee"/>
<path d="M1613 1055 C1607.47 1053.12 1590.77 1047.75 1579.8 1043.7 C1568.83 1039.65 1558.05 1034.87 1547.2 1030.7 C1536.35 1026.53 1525.55 1021.97 1514.7 1018.7 C1503.85 1015.43 1491.15 1012.53 1482.1 1011.1 C1473.05 1009.67 1467.63 1009.37 1460.4 1010.1 C1453.17 1010.83 1445.93 1012.8 1438.7 1015.5 C1431.47 1018.2 1424.23 1022.32 1417 1026.3 C1409.77 1030.28 1401.63 1035.52 1395.3 1039.4 C1388.97 1043.28 1381.72 1047.9 1379 1049.6" fill="none" stroke="#c9ccd6" stroke-width="1"/>
<path d="M1379 1049.6 L1385.23 1043.34 L1387.35 1046.73 Z" fill="#e6e8ee"/>
<path d="M1193 1260.3 C1189.27 1260.25 1177.95 1260.48 1170.6 1260 C1163.25 1259.52 1155.4 1259.45 1148.9 1257.4 C1142.4 1255.35 1136.12 1252.57 1131.6 1247.7 C1127.08 1242.83 1124.33 1235.8 1121.8 1228.2 C1119.27 1220.6 1118.03 1210.78 1116.4 1202.1 C1114.77 1193.42 1113.27 1183.62 1112 1176.1 C1110.73 1168.58 1109.33 1160.18 1108.8 1157" fill="none" stroke="#c9ccd6" stroke-width="1"/>
<path d="M1108.8 1157 L1112.19 1165.15 L1108.25 1165.81 Z" fill="#e6e8ee"/>
</g>
<g id="fp">
<path d="M1437.1 438.3 L1490.8 438.3 L1490.8 578.5 L1437.1 578.5" fill="none" stroke="#e4e6ec" stroke-width="1.1" stroke-dasharray="5.2 3"/>
<path d="M1437.1 448.1 L1470.2 448.1 L1470.2 568.3 L1437.1 568.3" fill="none" stroke="#e4e6ec" stroke-width="1.1" stroke-dasharray="5.2 3"/>
<circle cx="1464.8" cy="501.2" r="7.3" fill="none" stroke="#30dbe6" stroke-width="1.2"/>
<text x="1464.8" y="505.34" font-size="11.5" fill="#30dbe6" text-anchor="middle" stroke="#30dbe6" stroke-width="0.3">6</text>
<line x1="1454.4" y1="513" x2="1491.5" y2="513" stroke="#e4e6ec" stroke-width="1"/>
<path d="M1491.5 513 L1479.5 515.1 L1479.5 510.9 Z" fill="#e4e6ec"/>
<line x1="1464.8" y1="434" x2="1464.8" y2="452.5" stroke="#29c6d2" stroke-width="1.1"/>
<line x1="1461.98" y1="443.6" x2="1467.62" y2="433" stroke="#29c6d2" stroke-width="1.1"/>
<line x1="1461.98" y1="453.4" x2="1467.62" y2="442.8" stroke="#29c6d2" stroke-width="1.1"/>
<line x1="1464.8" y1="564" x2="1464.8" y2="583" stroke="#29c6d2" stroke-width="1.1"/>
<line x1="1461.98" y1="573.6" x2="1467.62" y2="563" stroke="#29c6d2" stroke-width="1.1"/>
<line x1="1461.98" y1="583.8" x2="1467.62" y2="573.2" stroke="#29c6d2" stroke-width="1.1"/>
<text x="1475" y="431" font-size="12" fill="#30dbe6" textLength="12.6" lengthAdjust="spacingAndGlyphs" transform="rotate(-82 1475 431)" font-style="italic" stroke="#30dbe6" stroke-width="0.2">6"</text>
<text x="1479.5" y="599.5" font-size="12" fill="#30dbe6" textLength="12.6" lengthAdjust="spacingAndGlyphs" transform="rotate(-82 1479.5 599.5)" font-style="italic" stroke="#30dbe6" stroke-width="0.2">6"</text>
</g>
<g id="ridgelabels">
<rect x="567.2" y="651.3" width="22.2" height="11.9" fill="#f0fefe"/>
<text x="578.3" y="661.4" font-size="10.5" fill="#35dccd" textLength="19.2" lengthAdjust="spacingAndGlyphs" text-anchor="middle" stroke="#35dccd" stroke-width="0.3">2x12</text>
<rect x="559.7" y="666" width="39" height="12.6" fill="#f0fefe"/>
<text x="579.2" y="676.8" font-size="11.5" fill="#35dccd" textLength="36" lengthAdjust="spacingAndGlyphs" text-anchor="middle" stroke="#35dccd" stroke-width="0.3">RIDGE</text>
<rect x="1044.1" y="670.4" width="21.9" height="11.5" fill="#f0fefe"/>
<text x="1055.05" y="680.1" font-size="10.5" fill="#35dccd" textLength="18.9" lengthAdjust="spacingAndGlyphs" text-anchor="middle" stroke="#35dccd" stroke-width="0.3">2x12</text>
<rect x="1036.7" y="684.5" width="38.9" height="12.6" fill="#f0fefe"/>
<text x="1056.15" y="695.3" font-size="11.5" fill="#35dccd" textLength="35.9" lengthAdjust="spacingAndGlyphs" text-anchor="middle" stroke="#35dccd" stroke-width="0.3">RIDGE</text>
<rect x="601" y="1064.1" width="12.2" height="38.6" fill="#f0fefe"/>
<text x="611.4" y="1083.4" font-size="11.5" fill="#35dccd" textLength="35.6" lengthAdjust="spacingAndGlyphs" text-anchor="middle" transform="rotate(-90 611.4 1083.4)" stroke="#35dccd" stroke-width="0.3">RIDGE</text>
<rect x="615.8" y="1071.6" width="11.7" height="21.7" fill="#f0fefe"/>
<text x="625.7" y="1082.45" font-size="10.5" fill="#35dccd" textLength="18.7" lengthAdjust="spacingAndGlyphs" text-anchor="middle" transform="rotate(-90 625.7 1082.45)" stroke="#35dccd" stroke-width="0.3">2x12</text>
</g>
<g id="symbols">
<line x1="933.9" y1="549" x2="933.9" y2="495.5" stroke="#e4e6ec" stroke-width="1"/>
<path d="M933.9 495.5 L936.4 509.5 L931.4 509.5 Z" fill="#e4e6ec"/>
<circle cx="926.3" cy="527.5" r="7.8" fill="none" stroke="#30dbe6" stroke-width="1.2"/>
<text x="926.3" y="531.46" font-size="11" fill="#30dbe6" text-anchor="middle" stroke="#30dbe6" stroke-width="0.3">1</text>
<line x1="605.7" y1="764.1" x2="605.7" y2="819.7" stroke="#e4e6ec" stroke-width="1"/>
<path d="M605.7 819.7 L603.2 805.7 L608.2 805.7 Z" fill="#e4e6ec"/>
<circle cx="597.6" cy="784.3" r="7.8" fill="none" stroke="#30dbe6" stroke-width="1.2"/>
<text x="597.6" y="788.26" font-size="11" fill="#30dbe6" text-anchor="middle" stroke="#30dbe6" stroke-width="0.3">1</text>
<line x1="694.4" y1="333.4" x2="694.4" y2="301.9" stroke="#e4e6ec" stroke-width="1"/>
<path d="M694.4 301.9 L696.8 315.4 L692 315.4 Z" fill="#e4e6ec"/>
<text x="683" y="334.2" font-size="13.5" fill="#dfe1e8" textLength="19.3" lengthAdjust="spacingAndGlyphs" transform="rotate(-90 683 334.2)" stroke="#dfe1e8" stroke-width="0.3">5/12</text>
<circle cx="709.4" cy="312.1" r="7.7" fill="none" stroke="#29c6d2" stroke-width="1"/>
<rect x="705.2" y="307.6" width="8.6" height="8.8" fill="#5fe3ea"/>
<circle cx="566.2" cy="933.4" r="7.8" fill="none" stroke="#30dbe6" stroke-width="1.2"/>
<text x="566.2" y="937.36" font-size="11" fill="#30dbe6" text-anchor="middle" stroke="#30dbe6" stroke-width="0.3">5</text>
<circle cx="661.6" cy="933.4" r="7.8" fill="none" stroke="#30dbe6" stroke-width="1.2"/>
<text x="661.6" y="937.36" font-size="11" fill="#30dbe6" text-anchor="middle" stroke="#30dbe6" stroke-width="0.3">5</text>
<text x="577.3" y="964.6" font-size="11.5" fill="#30dbe6" textLength="15.6" lengthAdjust="spacingAndGlyphs" stroke="#30dbe6" stroke-width="0.3">RS</text>
<line x1="1049.5" y1="805" x2="1049.5" y2="965.5" stroke="#29c6d2" stroke-width="1"/>
<path d="M1049.5 965.5 L1047.9 956 L1051.1 956 Z" fill="#29c6d2"/>
<circle cx="1061.3" cy="885.9" r="7.8" fill="none" stroke="#30dbe6" stroke-width="1.2"/>
<text x="1061.3" y="889.86" font-size="11" fill="#30dbe6" text-anchor="middle" stroke="#30dbe6" stroke-width="0.3">7</text>
<line x1="1281.5" y1="804.5" x2="1281.5" y2="965" stroke="#29c6d2" stroke-width="1"/>
<path d="M1281.5 965 L1279.9 955.5 L1283.1 955.5 Z" fill="#29c6d2"/>
<circle cx="1293.2" cy="885.6" r="7.8" fill="none" stroke="#30dbe6" stroke-width="1.2"/>
<text x="1293.2" y="889.56" font-size="11" fill="#30dbe6" text-anchor="middle" stroke="#30dbe6" stroke-width="0.3">7</text>
<circle cx="900.4" cy="993.3" r="7.8" fill="none" stroke="#30dbe6" stroke-width="1.2"/>
<text x="900.4" y="997.26" font-size="11" fill="#30dbe6" text-anchor="middle" stroke="#30dbe6" stroke-width="0.3">5</text>
<circle cx="1000.9" cy="993.3" r="7.8" fill="none" stroke="#30dbe6" stroke-width="1.2"/>
<text x="1000.9" y="997.26" font-size="11" fill="#30dbe6" text-anchor="middle" stroke="#30dbe6" stroke-width="0.3">5</text>
<circle cx="1108.1" cy="993.3" r="7.8" fill="none" stroke="#30dbe6" stroke-width="1.2"/>
<text x="1108.1" y="997.26" font-size="11" fill="#30dbe6" text-anchor="middle" stroke="#30dbe6" stroke-width="0.3">5</text>
<circle cx="1152.8" cy="993.3" r="7.8" fill="none" stroke="#30dbe6" stroke-width="1.2"/>
<text x="1152.8" y="997.26" font-size="11" fill="#30dbe6" text-anchor="middle" stroke="#30dbe6" stroke-width="0.3">5</text>
<circle cx="1260" cy="993.3" r="7.8" fill="none" stroke="#30dbe6" stroke-width="1.2"/>
<text x="1260" y="997.26" font-size="11" fill="#30dbe6" text-anchor="middle" stroke="#30dbe6" stroke-width="0.3">5</text>
<circle cx="1360.5" cy="993.3" r="7.8" fill="none" stroke="#30dbe6" stroke-width="1.2"/>
<text x="1360.5" y="997.26" font-size="11" fill="#30dbe6" text-anchor="middle" stroke="#30dbe6" stroke-width="0.3">5</text>
</g>
<g id="pitch">
<line x1="494" y1="1080.6" x2="528.8" y2="1080.6" stroke="#2fc22f" stroke-width="1.3"/>
<line x1="504.1" y1="1073.5" x2="504.1" y2="1101.7" stroke="#2fc22f" stroke-width="1.3"/>
<text x="514" y="1075.5" font-size="12.5" fill="#dfe1e8" textLength="7.75" lengthAdjust="spacingAndGlyphs" text-anchor="middle" stroke="#dfe1e8" stroke-width="0.3">12</text>
<text x="492.8" y="1094.2" font-size="12.5" fill="#dfe1e8" textLength="7.75" lengthAdjust="spacingAndGlyphs" text-anchor="middle" stroke="#dfe1e8" stroke-width="0.3">12</text>
<line x1="699.2" y1="1080.6" x2="733.8" y2="1080.6" stroke="#2fc22f" stroke-width="1.3"/>
<line x1="723.7" y1="1073.5" x2="723.7" y2="1101.7" stroke="#2fc22f" stroke-width="1.3"/>
<text x="713.8" y="1075.5" font-size="12.5" fill="#dfe1e8" textLength="7.75" lengthAdjust="spacingAndGlyphs" text-anchor="middle" stroke="#dfe1e8" stroke-width="0.3">12</text>
<text x="735" y="1094.2" font-size="12.5" fill="#dfe1e8" textLength="7.75" lengthAdjust="spacingAndGlyphs" text-anchor="middle" stroke="#dfe1e8" stroke-width="0.3">12</text>
<circle cx="510.4" cy="1112.8" r="7.8" fill="none" stroke="#30dbe6" stroke-width="1.2"/>
<text x="510.4" y="1116.76" font-size="11" fill="#30dbe6" text-anchor="middle" stroke="#30dbe6" stroke-width="0.3">1</text>
<circle cx="711" cy="1114" r="7.8" fill="none" stroke="#30dbe6" stroke-width="1.2"/>
<text x="711" y="1117.96" font-size="11" fill="#30dbe6" text-anchor="middle" stroke="#30dbe6" stroke-width="0.3">1</text>
<line x1="534.7" y1="1125.2" x2="479.9" y2="1125.2" stroke="#e4e6ec" stroke-width="1"/>
<path d="M479.9 1125.2 L493.9 1122.7 L493.9 1127.7 Z" fill="#e4e6ec"/>
<line x1="695" y1="1127.1" x2="750.2" y2="1127.1" stroke="#e4e6ec" stroke-width="1"/>
<path d="M750.2 1127.1 L736.2 1129.6 L736.2 1124.6 Z" fill="#e4e6ec"/>
<line x1="900.3" y1="1056.6" x2="926.1" y2="1056.6" stroke="#2fc22f" stroke-width="1.3"/>
<line x1="906.3" y1="1051.2" x2="906.3" y2="1072.4" stroke="#2fc22f" stroke-width="1.3"/>
<text x="915.5" y="1053" font-size="11" fill="#dfe1e8" textLength="6.82" lengthAdjust="spacingAndGlyphs" text-anchor="middle" stroke="#dfe1e8" stroke-width="0.3">12</text>
<text x="898.1" y="1068.8" font-size="11" fill="#dfe1e8" textLength="6.82" lengthAdjust="spacingAndGlyphs" text-anchor="middle" stroke="#dfe1e8" stroke-width="0.3">12</text>
<line x1="975.1" y1="1056.6" x2="1000.9" y2="1056.6" stroke="#2fc22f" stroke-width="1.3"/>
<line x1="994.9" y1="1051.2" x2="994.9" y2="1072.4" stroke="#2fc22f" stroke-width="1.3"/>
<text x="985.7" y="1053" font-size="11" fill="#dfe1e8" textLength="6.82" lengthAdjust="spacingAndGlyphs" text-anchor="middle" stroke="#dfe1e8" stroke-width="0.3">12</text>
<text x="1003.1" y="1068.8" font-size="11" fill="#dfe1e8" textLength="6.82" lengthAdjust="spacingAndGlyphs" text-anchor="middle" stroke="#dfe1e8" stroke-width="0.3">12</text>
<circle cx="918.5" cy="1067.5" r="7.5" fill="none" stroke="#30dbe6" stroke-width="1.2"/>
<text x="918.5" y="1071.82" font-size="12" fill="#30dbe6" text-anchor="middle" stroke="#30dbe6" stroke-width="0.3">6</text>
<circle cx="982.7" cy="1067.5" r="7.5" fill="none" stroke="#30dbe6" stroke-width="1.2"/>
<text x="982.7" y="1071.82" font-size="12" fill="#30dbe6" text-anchor="middle" stroke="#30dbe6" stroke-width="0.3">6</text>
<line x1="927" y1="1079.2" x2="902.1" y2="1079.2" stroke="#e4e6ec" stroke-width="1"/>
<path d="M902.1 1079.2 L913.6 1077.3 L913.6 1081.1 Z" fill="#e4e6ec"/>
<line x1="974.2" y1="1079.2" x2="999.1" y2="1079.2" stroke="#e4e6ec" stroke-width="1"/>
<path d="M999.1 1079.2 L987.6 1081.1 L987.6 1077.3 Z" fill="#e4e6ec"/>
<text x="913.8" y="1039.9" font-size="11.5" fill="#30dbe6" textLength="15.4" lengthAdjust="spacingAndGlyphs" stroke="#30dbe6" stroke-width="0.3">RS</text>
<path d="M872.3 1044.2L908.8 1044.2 M921 1044.2L944.5 1044.2 M956.7 1044.2L980.2 1044.2 M992.4 1044.2L1028.9 1044.2" fill="none" stroke="#29c6d2" stroke-width="1.4"/>
<path d="M883.6 1084.9L900.35 1084.9 M910.85 1084.9L930.35 1084.9 M940.85 1084.9L960.35 1084.9 M970.85 1084.9L990.35 1084.9 M1000.85 1084.9L1017.6 1084.9" fill="none" stroke="#29c6d2" stroke-width="1.4"/>
<line x1="1100.6" y1="1056.6" x2="1126.4" y2="1056.6" stroke="#2fc22f" stroke-width="1.3"/>
<line x1="1106.6" y1="1051.2" x2="1106.6" y2="1072.4" stroke="#2fc22f" stroke-width="1.3"/>
<text x="1115.1" y="1053" font-size="11" fill="#dfe1e8" textLength="6.82" lengthAdjust="spacingAndGlyphs" text-anchor="middle" stroke="#dfe1e8" stroke-width="0.3">12</text>
<text x="1099.1" y="1068.8" font-size="11" fill="#dfe1e8" textLength="6.82" lengthAdjust="spacingAndGlyphs" text-anchor="middle" stroke="#dfe1e8" stroke-width="0.3">12</text>
<line x1="1135" y1="1056.6" x2="1160.8" y2="1056.6" stroke="#2fc22f" stroke-width="1.3"/>
<line x1="1154.8" y1="1051.2" x2="1154.8" y2="1072.4" stroke="#2fc22f" stroke-width="1.3"/>
<text x="1146.3" y="1053" font-size="11" fill="#dfe1e8" textLength="6.82" lengthAdjust="spacingAndGlyphs" text-anchor="middle" stroke="#dfe1e8" stroke-width="0.3">12</text>
<text x="1162.3" y="1068.8" font-size="11" fill="#dfe1e8" textLength="6.82" lengthAdjust="spacingAndGlyphs" text-anchor="middle" stroke="#dfe1e8" stroke-width="0.3">12</text>
<circle cx="1119.6" cy="1067.5" r="7.5" fill="none" stroke="#30dbe6" stroke-width="1.2"/>
<text x="1119.6" y="1071.82" font-size="12" fill="#30dbe6" text-anchor="middle" stroke="#30dbe6" stroke-width="0.3">6</text>
<circle cx="1140.9" cy="1067.5" r="7.5" fill="none" stroke="#30dbe6" stroke-width="1.2"/>
<text x="1140.9" y="1071.82" font-size="12" fill="#30dbe6" text-anchor="middle" stroke="#30dbe6" stroke-width="0.3">6</text>
<line x1="1118.5" y1="1079.2" x2="1101.2" y2="1079.2" stroke="#e4e6ec" stroke-width="1"/>
<path d="M1101.2 1079.2 L1111.2 1077.3 L1111.2 1081.1 Z" fill="#e4e6ec"/>
<line x1="1134.8" y1="1079.2" x2="1158.7" y2="1079.2" stroke="#e4e6ec" stroke-width="1"/>
<path d="M1158.7 1079.2 L1148.7 1081.1 L1148.7 1077.3 Z" fill="#e4e6ec"/>
<text x="1107.7" y="1039.7" font-size="11.5" fill="#30dbe6" textLength="15.4" lengthAdjust="spacingAndGlyphs" stroke="#30dbe6" stroke-width="0.3">RS</text>
<path d="M1080.1 1044.2L1106.5 1044.2 M1118.7 1044.2L1142.2 1044.2 M1154.4 1044.2L1180.8 1044.2" fill="none" stroke="#29c6d2" stroke-width="1.4"/>
<path d="M1094.3 1084.9L1109.8 1084.9 M1120.3 1084.9L1139.8 1084.9 M1150.3 1084.9L1165.8 1084.9" fill="none" stroke="#29c6d2" stroke-width="1.4"/>
<line x1="1260.1" y1="1056.6" x2="1285.9" y2="1056.6" stroke="#2fc22f" stroke-width="1.3"/>
<line x1="1266.1" y1="1051.2" x2="1266.1" y2="1072.4" stroke="#2fc22f" stroke-width="1.3"/>
<text x="1275.3" y="1053" font-size="11" fill="#dfe1e8" textLength="6.82" lengthAdjust="spacingAndGlyphs" text-anchor="middle" stroke="#dfe1e8" stroke-width="0.3">12</text>
<text x="1257.9" y="1068.8" font-size="11" fill="#dfe1e8" textLength="6.82" lengthAdjust="spacingAndGlyphs" text-anchor="middle" stroke="#dfe1e8" stroke-width="0.3">12</text>
<line x1="1334.6" y1="1056.6" x2="1360.4" y2="1056.6" stroke="#2fc22f" stroke-width="1.3"/>
<line x1="1354.4" y1="1051.2" x2="1354.4" y2="1072.4" stroke="#2fc22f" stroke-width="1.3"/>
<text x="1345.2" y="1053" font-size="11" fill="#dfe1e8" textLength="6.82" lengthAdjust="spacingAndGlyphs" text-anchor="middle" stroke="#dfe1e8" stroke-width="0.3">12</text>
<text x="1362.6" y="1068.8" font-size="11" fill="#dfe1e8" textLength="6.82" lengthAdjust="spacingAndGlyphs" text-anchor="middle" stroke="#dfe1e8" stroke-width="0.3">12</text>
<circle cx="1278.3" cy="1067.5" r="7.5" fill="none" stroke="#30dbe6" stroke-width="1.2"/>
<text x="1278.3" y="1071.82" font-size="12" fill="#30dbe6" text-anchor="middle" stroke="#30dbe6" stroke-width="0.3">6</text>
<circle cx="1342.2" cy="1067.5" r="7.5" fill="none" stroke="#30dbe6" stroke-width="1.2"/>
<text x="1342.2" y="1071.82" font-size="12" fill="#30dbe6" text-anchor="middle" stroke="#30dbe6" stroke-width="0.3">6</text>
<line x1="1286.8" y1="1079.2" x2="1261.9" y2="1079.2" stroke="#e4e6ec" stroke-width="1"/>
<path d="M1261.9 1079.2 L1273.4 1077.3 L1273.4 1081.1 Z" fill="#e4e6ec"/>
<line x1="1333.7" y1="1079.2" x2="1358.6" y2="1079.2" stroke="#e4e6ec" stroke-width="1"/>
<path d="M1358.6 1079.2 L1347.1 1081.1 L1347.1 1077.3 Z" fill="#e4e6ec"/>
<text x="1273.6" y="1039.9" font-size="11.5" fill="#30dbe6" textLength="15.4" lengthAdjust="spacingAndGlyphs" stroke="#30dbe6" stroke-width="0.3">RS</text>
<path d="M1232.1 1044.2L1268.45 1044.2 M1280.65 1044.2L1304.15 1044.2 M1316.35 1044.2L1339.85 1044.2 M1352.05 1044.2L1388.4 1044.2" fill="none" stroke="#29c6d2" stroke-width="1.4"/>
<path d="M1243.4 1084.9L1260 1084.9 M1270.5 1084.9L1290 1084.9 M1300.5 1084.9L1320 1084.9 M1330.5 1084.9L1350 1084.9 M1360.5 1084.9L1377.1 1084.9" fill="none" stroke="#29c6d2" stroke-width="1.4"/>
</g>
<g id="dims">
<line x1="583.5" y1="330.5" x2="593.2" y2="330.5" stroke="#29c6d2" stroke-width="1.1"/>
<line x1="578.69" y1="335.31" x2="588.31" y2="325.69" stroke="#29c6d2" stroke-width="1.1"/>
<line x1="588.39" y1="335.31" x2="598.01" y2="325.69" stroke="#29c6d2" stroke-width="1.1"/>
<line x1="820.4" y1="330.5" x2="830.6" y2="330.5" stroke="#29c6d2" stroke-width="1.1"/>
<line x1="815.59" y1="335.31" x2="825.21" y2="325.69" stroke="#29c6d2" stroke-width="1.1"/>
<line x1="825.79" y1="335.31" x2="835.41" y2="325.69" stroke="#29c6d2" stroke-width="1.1"/>
<text x="565.4" y="325.4" font-size="12" fill="#30dbe6" textLength="12.6" lengthAdjust="spacingAndGlyphs" font-style="italic" stroke="#30dbe6" stroke-width="0.2">6"</text>
<text x="835.6" y="318.9" font-size="12" fill="#30dbe6" textLength="12.6" lengthAdjust="spacingAndGlyphs" font-style="italic" stroke="#30dbe6" stroke-width="0.2">6"</text>
<line x1="433.9" y1="341.7" x2="433.9" y2="361.4" stroke="#29c6d2" stroke-width="1.1"/>
<line x1="428.95" y1="336.75" x2="438.85" y2="346.65" stroke="#29c6d2" stroke-width="1.1"/>
<line x1="428.95" y1="356.45" x2="438.85" y2="366.35" stroke="#29c6d2" stroke-width="1.1"/>
<line x1="377.5" y1="402.2" x2="397.5" y2="402.2" stroke="#29c6d2" stroke-width="1.1"/>
<line x1="372.45" y1="406.75" x2="382.55" y2="397.65" stroke="#29c6d2" stroke-width="1.1"/>
<line x1="392.45" y1="406.75" x2="402.55" y2="397.65" stroke="#29c6d2" stroke-width="1.1"/>
<line x1="759.8" y1="1174.4" x2="762.2" y2="1204.7" stroke="#29c6d2" stroke-width="1.1"/>
<line x1="755.3" y1="1169.04" x2="764.3" y2="1179.76" stroke="#29c6d2" stroke-width="1.1"/>
<line x1="757.7" y1="1199.34" x2="766.7" y2="1210.06" stroke="#29c6d2" stroke-width="1.1"/>
<text x="757.5" y="1203" font-size="11.5" fill="#30dbe6" textLength="25.5" lengthAdjust="spacingAndGlyphs" transform="rotate(-80 757.5 1203)" font-style="italic" stroke="#30dbe6" stroke-width="0.35">1'-6"</text>
<line x1="1432.12" y1="1128.68" x2="1442.08" y2="1120.32" stroke="#29c6d2" stroke-width="1.1"/>
<line x1="1442.42" y1="1128.68" x2="1452.38" y2="1120.32" stroke="#29c6d2" stroke-width="1.1"/>
<line x1="1433" y1="1124.5" x2="1451" y2="1124.5" stroke="#29c6d2" stroke-width="1.1"/>
<text x="1454.4" y="1115" font-size="12" fill="#30dbe6" textLength="12.6" lengthAdjust="spacingAndGlyphs" font-style="italic" stroke="#30dbe6" stroke-width="0.2">6"</text>
<line x1="867.55" y1="1086.75" x2="877.45" y2="1076.85" stroke="#29c6d2" stroke-width="1.1"/>
<line x1="877.55" y1="1086.75" x2="887.45" y2="1076.85" stroke="#29c6d2" stroke-width="1.1"/>
<line x1="869.5" y1="1081.8" x2="884.5" y2="1081.8" stroke="#29c6d2" stroke-width="1.1"/>
<line x1="872.5" y1="1074.8" x2="882.5" y2="1074.8" stroke="#29c6d2" stroke-width="1.2"/>
<line x1="1023.95" y1="1086.75" x2="1033.85" y2="1076.85" stroke="#29c6d2" stroke-width="1.1"/>
<line x1="1013.35" y1="1086.75" x2="1023.25" y2="1076.85" stroke="#29c6d2" stroke-width="1.1"/>
<line x1="1015.9" y1="1081.8" x2="1031.9" y2="1081.8" stroke="#29c6d2" stroke-width="1.1"/>
<line x1="1018.3" y1="1074.8" x2="1028.9" y2="1074.8" stroke="#29c6d2" stroke-width="1.2"/>
<text x="850.5" y="1095" font-size="12" fill="#30dbe6" textLength="12.6" lengthAdjust="spacingAndGlyphs" font-style="italic" stroke="#30dbe6" stroke-width="0.2">6"</text>
<text x="1031.6" y="1093.6" font-size="12" fill="#30dbe6" textLength="12.6" lengthAdjust="spacingAndGlyphs" font-style="italic" stroke="#30dbe6" stroke-width="0.2">6"</text>
<line x1="914.5" y1="1081" x2="914.5" y2="1099" stroke="#29c6d2" stroke-width="1.1"/>
<line x1="909.6" y1="1080.68" x2="919.4" y2="1089.52" stroke="#29c6d2" stroke-width="1.1"/>
<line x1="909.6" y1="1090.38" x2="919.4" y2="1099.22" stroke="#29c6d2" stroke-width="1.1"/>
<path d="M909 1080.6 Q913.5 1081.2 914.5 1084" fill="none" stroke="#29c6d2" stroke-width="1"/>
<text x="910.9" y="1110.5" font-size="12" fill="#30dbe6" textLength="11.5" lengthAdjust="spacingAndGlyphs" transform="rotate(-90 910.9 1110.5)" font-style="italic" stroke="#30dbe6" stroke-width="0.2">6"</text>
<path d="M883.1 1051 q-2.2 4 -0.4 8 t0.2 8 t0.6 8 t2.2 9" fill="none" stroke="#29c6d2" stroke-width="1.3"/>
<path d="M1018.5 1050 q2.2 4 0.4 8 t-0.2 8 t-0.6 8 t-2.2 5" fill="none" stroke="#29c6d2" stroke-width="1.3"/>
<line x1="1075.65" y1="1086.75" x2="1085.55" y2="1076.85" stroke="#29c6d2" stroke-width="1.1"/>
<line x1="1085.65" y1="1086.75" x2="1095.55" y2="1076.85" stroke="#29c6d2" stroke-width="1.1"/>
<line x1="1077.6" y1="1081.8" x2="1092.6" y2="1081.8" stroke="#29c6d2" stroke-width="1.1"/>
<line x1="1080.6" y1="1074.8" x2="1090.6" y2="1074.8" stroke="#29c6d2" stroke-width="1.2"/>
<line x1="1175.85" y1="1086.75" x2="1185.75" y2="1076.85" stroke="#29c6d2" stroke-width="1.1"/>
<line x1="1165.25" y1="1086.75" x2="1175.15" y2="1076.85" stroke="#29c6d2" stroke-width="1.1"/>
<line x1="1167.8" y1="1081.8" x2="1183.8" y2="1081.8" stroke="#29c6d2" stroke-width="1.1"/>
<line x1="1170.2" y1="1074.8" x2="1180.8" y2="1074.8" stroke="#29c6d2" stroke-width="1.2"/>
<text x="1060.8" y="1095" font-size="12" fill="#30dbe6" textLength="12.6" lengthAdjust="spacingAndGlyphs" font-style="italic" stroke="#30dbe6" stroke-width="0.2">6"</text>
<text x="1188" y="1093.6" font-size="12" fill="#30dbe6" textLength="12.6" lengthAdjust="spacingAndGlyphs" font-style="italic" stroke="#30dbe6" stroke-width="0.2">6"</text>
<line x1="1103.5" y1="1081" x2="1103.5" y2="1099" stroke="#29c6d2" stroke-width="1.1"/>
<line x1="1098.6" y1="1080.68" x2="1108.4" y2="1089.52" stroke="#29c6d2" stroke-width="1.1"/>
<line x1="1098.6" y1="1090.38" x2="1108.4" y2="1099.22" stroke="#29c6d2" stroke-width="1.1"/>
<path d="M1098 1080.6 Q1102.5 1081.2 1103.5 1084" fill="none" stroke="#29c6d2" stroke-width="1"/>
<text x="1099.9" y="1110.5" font-size="12" fill="#30dbe6" textLength="11.5" lengthAdjust="spacingAndGlyphs" transform="rotate(-90 1099.9 1110.5)" font-style="italic" stroke="#30dbe6" stroke-width="0.2">6"</text>
<path d="M1091.2 1051 q-2.2 4 -0.4 8 t0.2 8 t0.6 8 t2.2 9" fill="none" stroke="#29c6d2" stroke-width="1.3"/>
<path d="M1170.4 1050 q2.2 4 0.4 8 t-0.2 8 t-0.6 8 t-2.2 5" fill="none" stroke="#29c6d2" stroke-width="1.3"/>
<line x1="1227.25" y1="1086.75" x2="1237.15" y2="1076.85" stroke="#29c6d2" stroke-width="1.1"/>
<line x1="1237.25" y1="1086.75" x2="1247.15" y2="1076.85" stroke="#29c6d2" stroke-width="1.1"/>
<line x1="1229.2" y1="1081.8" x2="1244.2" y2="1081.8" stroke="#29c6d2" stroke-width="1.1"/>
<line x1="1232.2" y1="1074.8" x2="1242.2" y2="1074.8" stroke="#29c6d2" stroke-width="1.2"/>
<line x1="1383.85" y1="1086.75" x2="1393.75" y2="1076.85" stroke="#29c6d2" stroke-width="1.1"/>
<line x1="1373.25" y1="1086.75" x2="1383.15" y2="1076.85" stroke="#29c6d2" stroke-width="1.1"/>
<line x1="1375.8" y1="1081.8" x2="1391.8" y2="1081.8" stroke="#29c6d2" stroke-width="1.1"/>
<line x1="1378.2" y1="1074.8" x2="1388.8" y2="1074.8" stroke="#29c6d2" stroke-width="1.2"/>
<text x="1210.8" y="1095" font-size="12" fill="#30dbe6" textLength="12.6" lengthAdjust="spacingAndGlyphs" font-style="italic" stroke="#30dbe6" stroke-width="0.2">6"</text>
<text x="1391.8" y="1093.6" font-size="12" fill="#30dbe6" textLength="12.6" lengthAdjust="spacingAndGlyphs" font-style="italic" stroke="#30dbe6" stroke-width="0.2">6"</text>
<line x1="1260.3" y1="1081" x2="1260.3" y2="1099" stroke="#29c6d2" stroke-width="1.1"/>
<line x1="1255.4" y1="1080.68" x2="1265.2" y2="1089.52" stroke="#29c6d2" stroke-width="1.1"/>
<line x1="1255.4" y1="1090.38" x2="1265.2" y2="1099.22" stroke="#29c6d2" stroke-width="1.1"/>
<path d="M1254.8 1080.6 Q1259.3 1081.2 1260.3 1084" fill="none" stroke="#29c6d2" stroke-width="1"/>
<text x="1256.7" y="1110.5" font-size="12" fill="#30dbe6" textLength="11.5" lengthAdjust="spacingAndGlyphs" transform="rotate(-90 1256.7 1110.5)" font-style="italic" stroke="#30dbe6" stroke-width="0.2">6"</text>
<path d="M1242.8 1051 q-2.2 4 -0.4 8 t0.2 8 t0.6 8 t2.2 9" fill="none" stroke="#29c6d2" stroke-width="1.3"/>
<path d="M1378.4 1050 q2.2 4 0.4 8 t-0.2 8 t-0.6 8 t-2.2 5" fill="none" stroke="#29c6d2" stroke-width="1.3"/>
</g>
</svg>
</body></html>
